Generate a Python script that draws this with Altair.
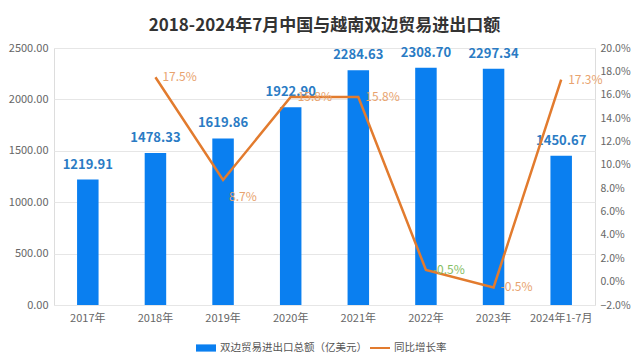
import altair as alt
import pandas as pd

years = ["2017年", "2018年", "2019年", "2020年", "2021年", "2022年", "2023年", "2024年1-7月"]
trade = [1219.91, 1478.33, 1619.86, 1922.90, 2284.63, 2308.70, 2297.34, 1450.67]
growth_years = ["2018年", "2019年", "2020年", "2021年", "2022年", "2023年", "2024年1-7月"]
growth = [17.5, 8.7, 15.8, 15.8, 1.0, -0.5, 17.3]
growth_labels = ["17.5%", "8.7%", "15.8%", "15.8%", "-0.5%", "-0.5%", "17.3%"]
left_ticks = [0, 500, 1000, 1500, 2000, 2500]
right_ticks = [-2, 0, 2, 4, 6, 8, 10, 12, 14, 16, 18, 20]

bar_name = "双边贸易进出口总额（亿美元）"
line_name = "同比增长率"

FONT = "Noto Sans CJK SC"
BLUE = "#0a7ff0"
ORANGE = "#e27b2e"

bars_df = pd.DataFrame({"year": years, "trade": trade, "series": bar_name})
line_df = pd.DataFrame({"year": growth_years, "growth": growth,
                        "label": growth_labels, "series": line_name})

x = alt.X("year:N", sort=years, scale=alt.Scale(paddingInner=0.68, paddingOuter=0.34),
          axis=alt.Axis(title=None, labelAngle=0, ticks=False, domain=False,
                        labelPadding=7, labelFontSize=11, labelColor="#666666",
                        labelFont=FONT))

yl = alt.Y("trade:Q", scale=alt.Scale(domain=[0, 2500], nice=False),
           axis=alt.Axis(title=None, values=left_ticks, format=".2f", ticks=False,
                         domain=False, labelPadding=6, labelFontSize=11,
                         labelColor="#666666", labelFont=FONT, gridColor="#e6e6e6"))

bars = alt.Chart(bars_df).mark_bar(size=21.5).encode(
    x=x, y=yl,
    color=alt.Color("series:N", scale=alt.Scale(domain=[bar_name], range=[BLUE]),
                    legend=alt.Legend(title=None, orient="none", legendX=141, legendY=289,
                                      symbolType="M-1,-0.36H1V0.36H-1Z", symbolSize=400,
                                      labelFontSize=10.5, labelColor="#555555",
                                      labelFont=FONT, labelOffset=3, padding=0,
                                      labelLimit=400))
)
bar_text = alt.Chart(bars_df).mark_text(dy=-8, baseline="bottom", fontSize=13,
                                        fontWeight="bold", color="#2a7bc4",
                                        font=FONT).encode(
    x=x, y=yl, text=alt.Text("trade:Q", format=".2f"))

left = alt.layer(bars, bar_text)

yr = alt.Y("growth:Q", scale=alt.Scale(domain=[-2, 20], nice=False),
           axis=alt.Axis(title=None, orient="right", values=right_ticks,
                         labelExpr="format(datum.value, '.1f') + '%'", ticks=False,
                         domain=False, grid=False, labelPadding=5, labelFontSize=10.5,
                         labelColor="#666666", labelFont=FONT, labelOverlap=False))

line = alt.Chart(line_df).mark_line(strokeWidth=2.5).encode(
    x=x, y=yr,
    stroke=alt.Stroke("series:N", scale=alt.Scale(domain=[line_name], range=[ORANGE]),
                      legend=alt.Legend(title=None, orient="none", legendX=315, legendY=289,
                                        symbolType="stroke", symbolSize=400,
                                        symbolStrokeWidth=2, labelFontSize=10.5,
                                        labelColor="#555555", labelFont=FONT,
                                        labelOffset=3, padding=0, labelLimit=400))
)
label_color = alt.condition(alt.datum.year == "2022年", alt.value("#86bd63"),
                            alt.value("#e8a36e"))
line_text = alt.Chart(line_df).transform_filter(alt.datum.year != "2019年").mark_text(
    align="left", dx=7, dy=0, fontSize=12, font=FONT).encode(
    x=x, y=yr, text="label:N", color=label_color)
line_text2 = alt.Chart(line_df).transform_filter(alt.datum.year == "2019年").mark_text(
    align="left", dx=6, dy=17, fontSize=12, font=FONT).encode(
    x=x, y=yr, text="label:N", color=label_color)

right = alt.layer(line, line_text, line_text2)

chart = alt.layer(left, right).resolve_scale(y="independent").properties(
    width=541, height=257,
    autosize=alt.AutoSizeParams(type="none"),
    padding={"left": 46, "top": 40, "right": 37, "bottom": 51},
    title=alt.TitleParams("2018-2024年7月中国与越南双边贸易进出口额", fontSize=17,
                          font=FONT, fontWeight="bold", color="#333333",
                          anchor="middle", offset=7),
).configure_view(stroke=None).configure(background="white")

chart.save("out.html", embed_options={"renderer": "svg", "actions": False})
